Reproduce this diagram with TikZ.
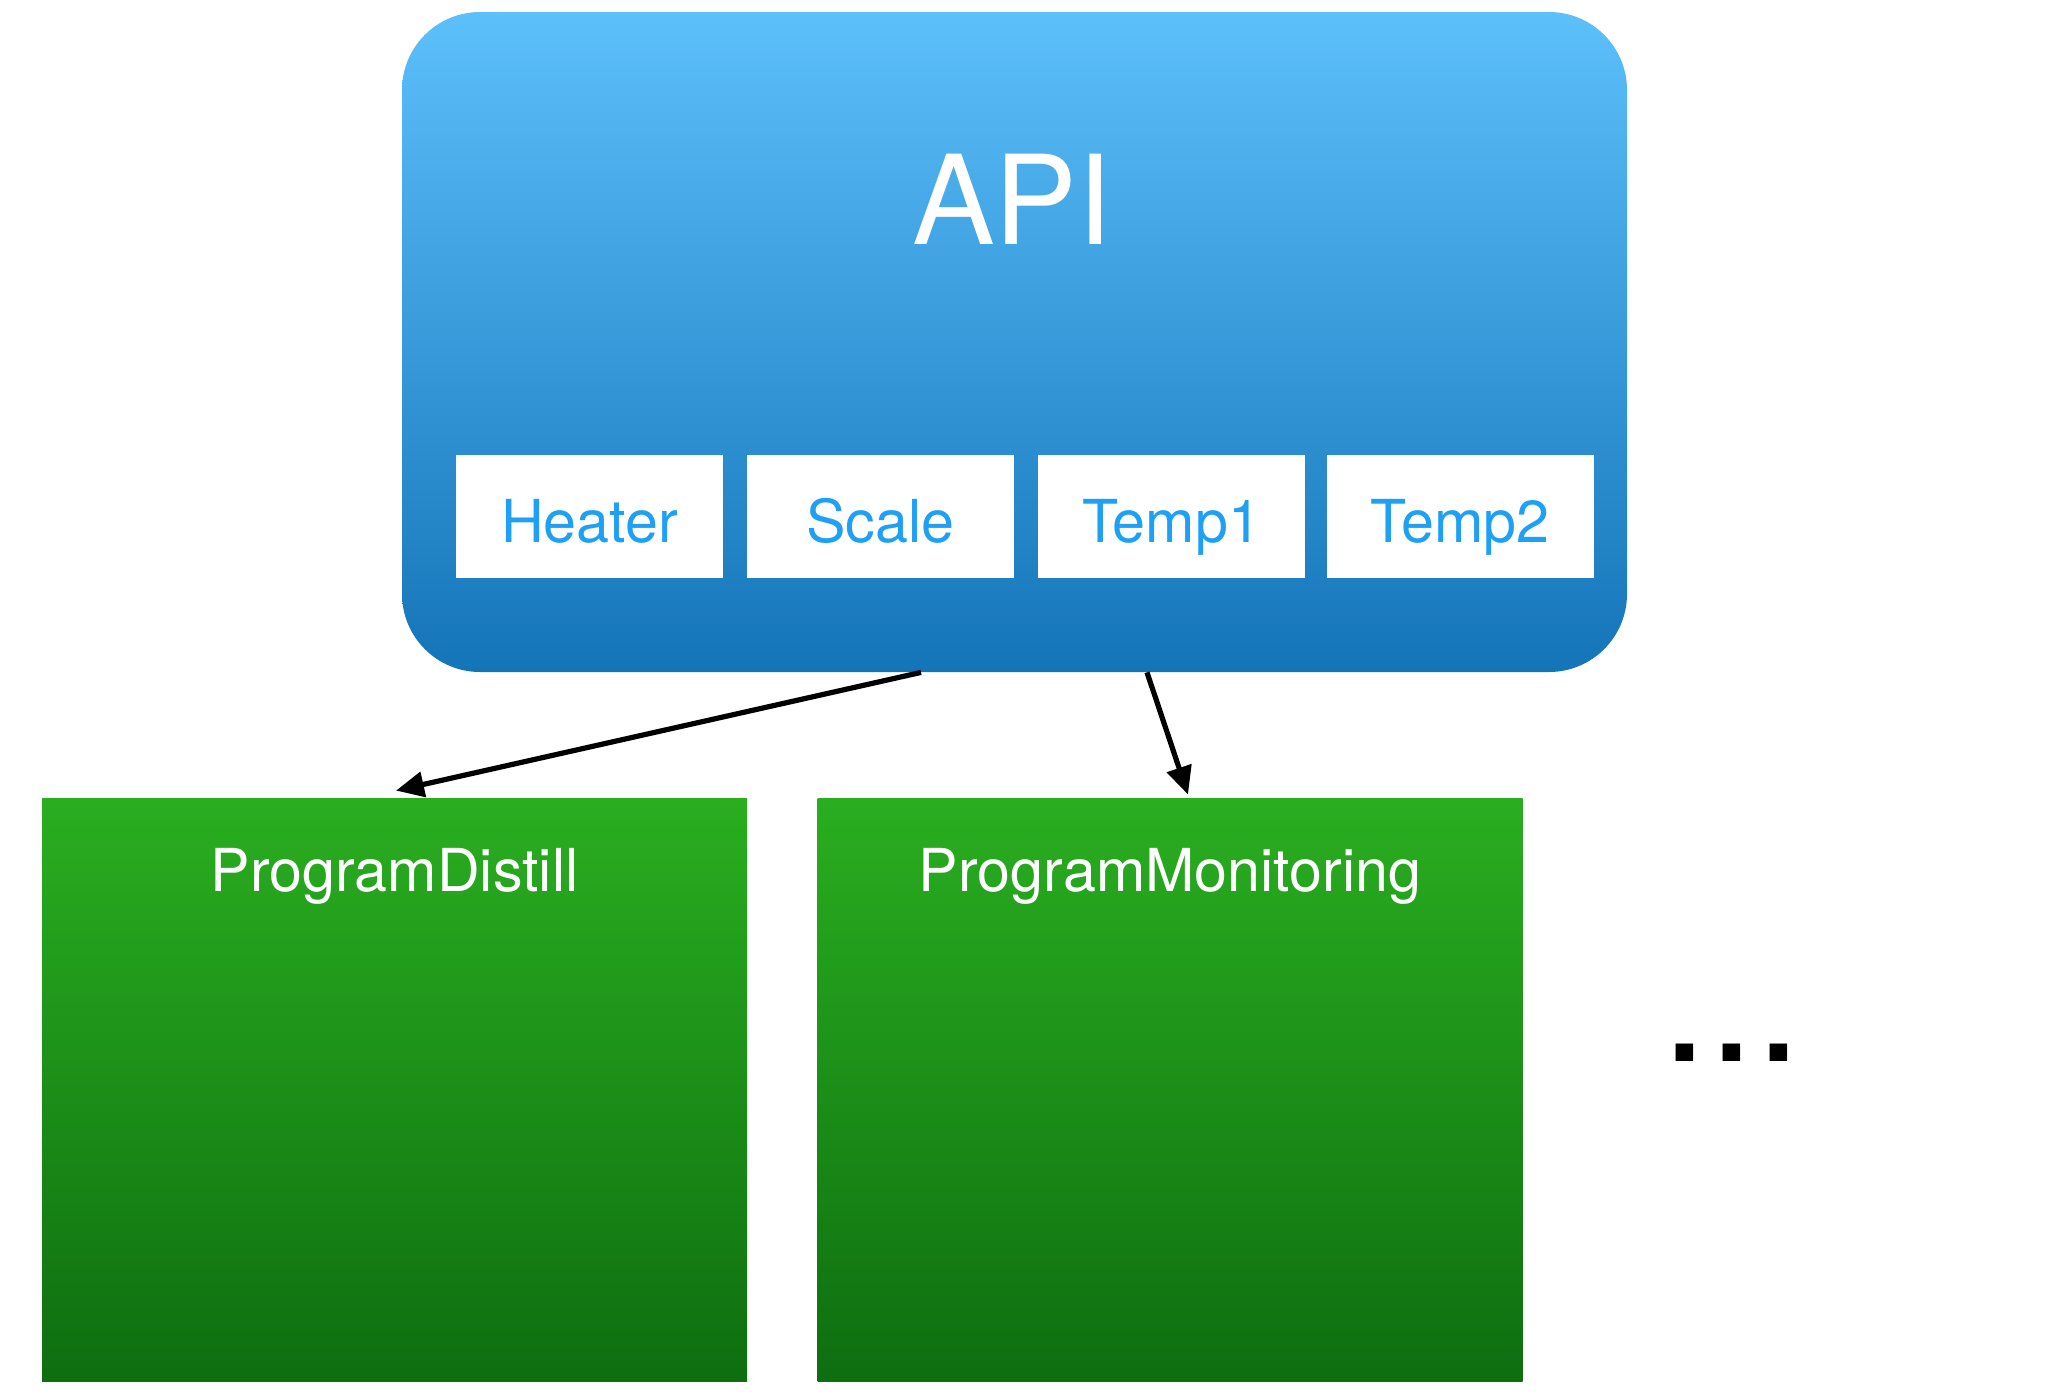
\documentclass[tikz,border=0pt]{standalone}
\usepackage{fontspec}
\setmainfont{TeX Gyre Heros}
\usetikzlibrary{arrows.meta,calc}
\definecolor{apitop}{RGB}{92,192,251}
\definecolor{apibot}{RGB}{20,116,184}
\definecolor{grtop}{RGB}{42,174,32}
\definecolor{grbot}{RGB}{14,110,16}
\definecolor{subtxt}{RGB}{30,160,245}
\tikzset{
  apibox/.style={rounded corners=39pt, top color=apitop, bottom color=apibot, draw=none,
    minimum width=1225*0.5pt, minimum height=660*0.5pt, inner sep=0pt},
  subbox/.style={fill=white, draw=none, minimum width=267*0.5pt, minimum height=123*0.5pt, inner sep=0pt},
  subtext/.style={anchor=base, text=subtxt, font=\fontsize{29.6}{29.6}\selectfont, inner sep=0pt},
  progbox/.style={top color=grtop, bottom color=grbot, draw=none,
    minimum width=705*0.5pt, minimum height=583*0.5pt, inner sep=0pt},
  progtext/.style={anchor=base, text=white, font=\fontsize{29.6}{29.6}\selectfont, inner sep=0pt},
  conn/.style={-{Triangle[length=14pt,width=12.5pt]}, line width=2.6pt, black},
}
\begin{document}
\begin{tikzpicture}[x=0.5pt,y=-0.5pt]
\useasboundingbox (0,0) rectangle (2068,1398);
\node[apibox] (api) at (1014.5,342) {};
\node[anchor=base, text=white, font=\fontsize{62}{62}\selectfont, inner sep=0pt] (apilabel) at (1012,244) {API};
\node[subbox] (heater) at (589.5,516.5) {};
\node[subbox] (scale) at (880.5,516.5) {};
\node[subbox] (temp1) at (1171.5,516.5) {};
\node[subbox] (temp2) at (1460,516.5) {};
\node[subtext] (heatertext) at (589.5,542) {Heater};
\node[subtext] (scaletext) at (880.5,542) {Scale};
\node[subtext] (temp1text) at (1171.5,542) {Temp1};
\node[subtext] (temp2text) at (1460,542) {Temp2};
\node[progbox] (pd) at (394.5,1089.5) {};
\node[progbox] (pm) at (1170,1089.5) {};
\node[progtext] (pdtext) at (394.5,891) {ProgramDistill};
\node[progtext] (pmtext) at (1170,891) {ProgramMonitoring};
\node[anchor=base, inner sep=0pt, font=\fontsize{84}{84}\selectfont] (dots) at (1732,1061) {...};
\draw[conn] ([xshift=-93.5*0.5pt]api.south) -- ([xshift=1.5*0.5pt,yshift=7*0.5pt]pd.north);
\draw[conn] ([xshift=132.5*0.5pt]api.south) -- ([xshift=18*0.5pt,yshift=3*0.5pt]pm.north);
\end{tikzpicture}
\end{document}
